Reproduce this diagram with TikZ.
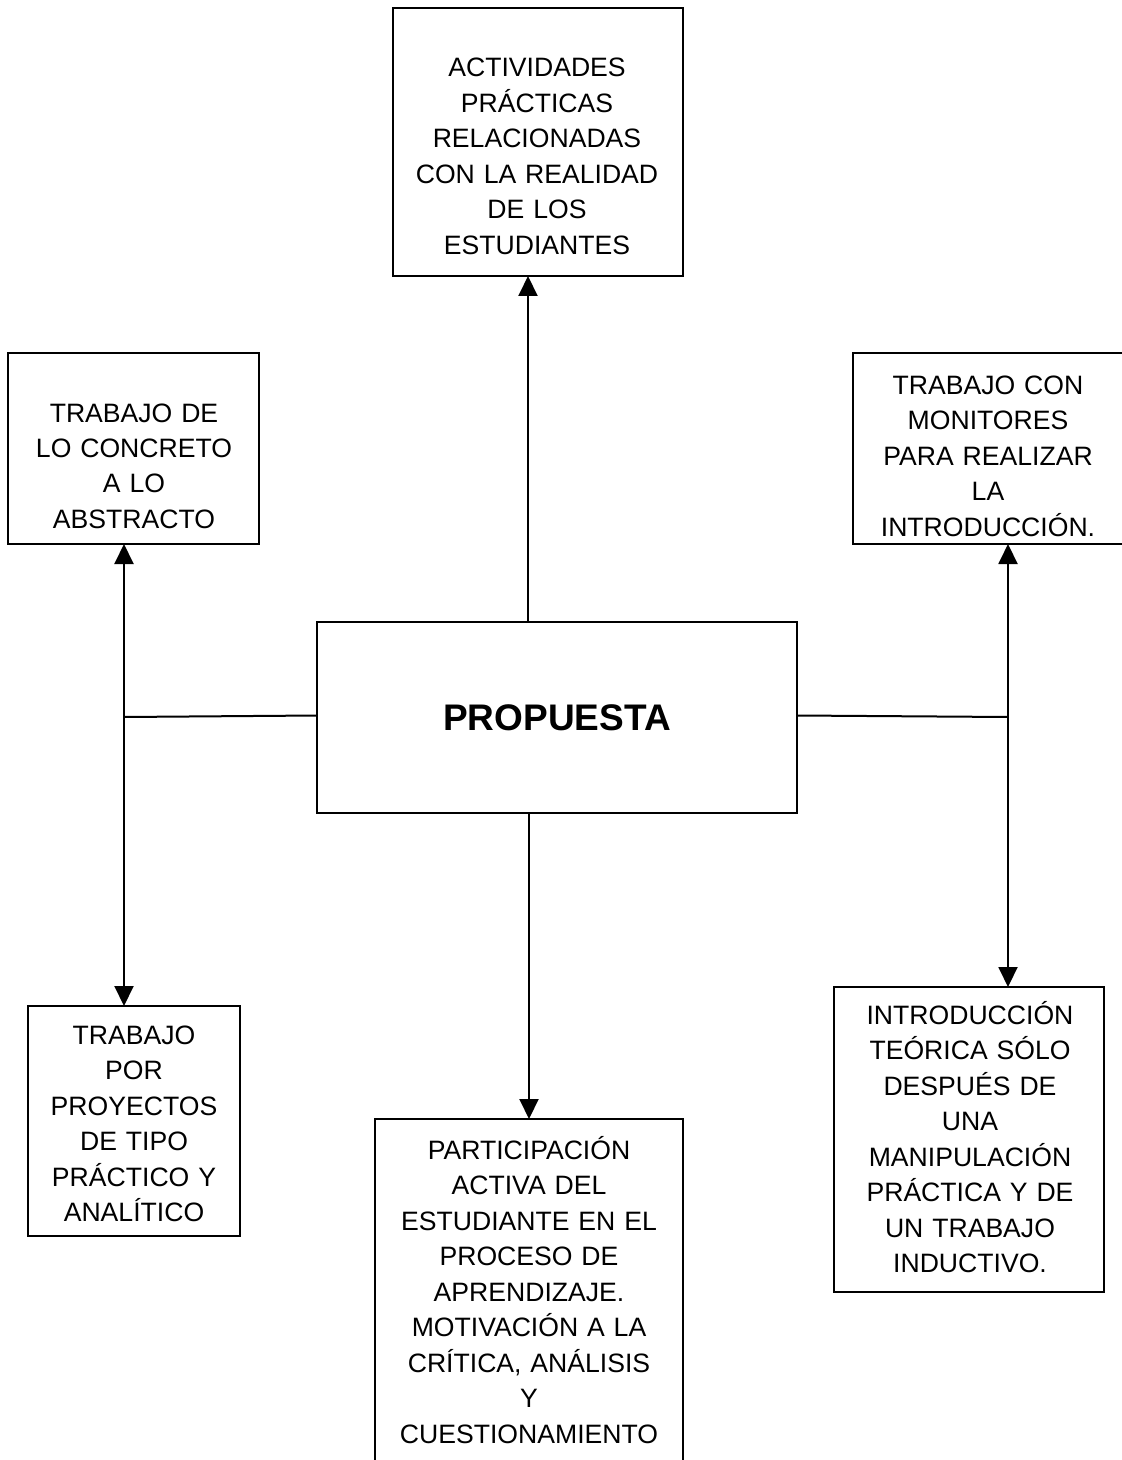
\documentclass[tikz,border=0pt]{standalone}
\usepackage{fontspec}
\setmainfont{Liberation Sans}
\usepackage{tikz}
\usetikzlibrary{arrows.meta}
\usetikzlibrary{calc}
\tikzstyle{every path}=[line width=1pt]
\tikzstyle{caja}=[draw,inner sep=0pt,outer sep=0pt]
\tikzstyle{texto}=[text width=170pt,align=center,anchor=base,inner sep=0pt,font=\fontsize{13.3}{17.75}\selectfont]
\tikzstyle{flecha}=[-{Triangle[length=10pt,width=9.5pt]}]

\begin{document}
\begin{tikzpicture}[x=0.5pt,y=-0.5pt]
\useasboundingbox (0,0) rectangle (1122,1460);

\node[caja,minimum width=240pt,minimum height=95.5pt,font=\bfseries\fontsize{18.5}{22}\selectfont] (prop) at (557,717.5) {PROPUESTA};

\node[caja,minimum width=145pt,minimum height=134pt] (act) at (538,142) {};
\node[caja,minimum width=125.5pt,minimum height=95.5pt] (ltop) at (133.5,448.5) {};
\node[caja,minimum width=135.5pt,minimum height=95.5pt] (rtop) at (988.5,448.5) {};
\node[caja,minimum width=106pt,minimum height=115pt] (lbot) at (134,1121) {};
\node[caja,minimum width=154pt,minimum height=180.5pt] (cbot) at (529,1299.5) {};
\node[caja,minimum width=135pt,minimum height=152.5pt] (rbot) at (969,1139.5) {};

\node[texto] (tact) at (537,77) {ACTIVIDADES\\PRÁCTICAS\\RELACIONADAS\\CON LA REALIDAD\\DE LOS\\ESTUDIANTES};
\node[texto] (tltop) at (134,422) {TRABAJO DE\\LO CONCRETO\\A LO\\ABSTRACTO};
\node[texto] (trtop) at (988,394) {TRABAJO CON\\MONITORES\\PARA REALIZAR\\LA\\INTRODUCCIÓN.};
\node[texto] (tlbot) at (134,1044) {TRABAJO\\POR\\PROYECTOS\\DE TIPO\\PRÁCTICO Y\\ANALÍTICO};
\node[texto] (tcbot) at (529,1159) {PARTICIPACIÓN\\ACTIVA DEL\\ESTUDIANTE EN EL\\PROCESO DE\\APRENDIZAJE.\\MOTIVACIÓN A LA\\CRÍTICA, ANÁLISIS\\Y\\CUESTIONAMIENTO};
\node[texto] (trbot) at (970,1024) {INTRODUCCIÓN\\TEÓRICA SÓLO\\DESPUÉS DE\\UNA\\MANIPULACIÓN\\PRÁCTICA Y DE\\UN TRABAJO\\INDUCTIVO.};

\coordinate (jl) at (124,717);
\coordinate (jr) at (1008,717);
\coordinate (jt) at (528,0);

\draw[flecha] (jt |- prop.north) -- (jt |- act.south);
\draw[flecha] (cbot.north |- prop.south) -- (cbot.north);

\draw ([yshift=1pt]prop.west) -- (jl);
\draw[flecha] (jl) -- (jl |- ltop.south);
\draw[flecha] (jl) -- (jl |- lbot.north);

\draw ([yshift=1pt]prop.east) -- (jr);
\draw[flecha] (jr) -- (jr |- rtop.south);
\draw[flecha] (jr) -- (jr |- rbot.north);
\end{tikzpicture}
\end{document}
